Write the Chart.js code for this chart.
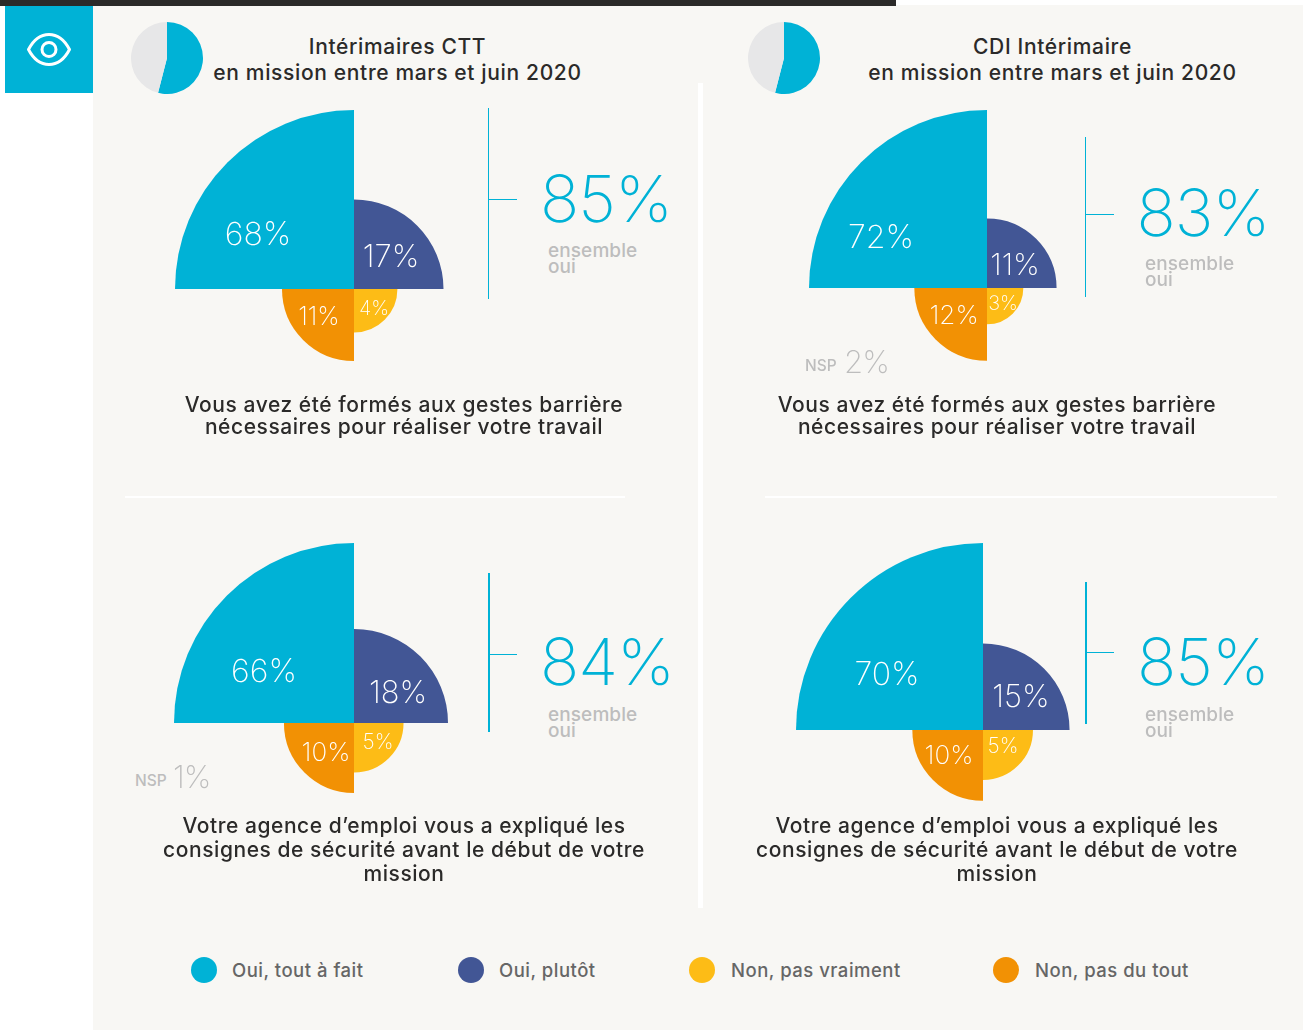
<!DOCTYPE html>
<html lang="fr">
<head>
<meta charset="utf-8">
<title>Gestes barrière</title>
<script src="https://cdn.jsdelivr.net/npm/chart.js@4/dist/chart.umd.min.js"></script>
<style>
  html, body { margin: 0; padding: 0; background: #fff; }
  body { position: relative; width: 1303px; height: 1030px; overflow: hidden; font-family: Inter, "Noto Sans", sans-serif; }
  .box, canvas, .txt { position: absolute; }
  canvas { display: block; }
  .txt { white-space: pre; line-height: 1; }
  .c { transform: translate(-50%, -50%); text-align: center; }
  .l { transform: translateY(-50%); }
  .title { font-size: 21px; font-weight: 450; color: #2b2a29; letter-spacing: 0.65px; }
  .question { font-size: 21px; font-weight: 450; color: #2b2a29; letter-spacing: 0.55px; }
  .big { font-size: 65px; font-weight: 200; color: #00b2d6; letter-spacing: -1px; }
  .sub { font-size: 19px; font-weight: 450; color: #bdbdbd; letter-spacing: 0.1px; }
  .nsp { font-size: 15.5px; font-weight: 500; color: #bdbdbd; }
  .nspv { font-size: 31px; font-weight: 200; color: #bdbdbd; letter-spacing: -1px; }
  .leg { font-size: 18.5px; font-weight: 450; color: #666; letter-spacing: 0.5px; }
</style>
</head>
<body>
<script>
const categories = ["Oui, tout à fait", "Oui, plutôt", "Non, pas vraiment", "Non, pas du tout"];
const colors = ["#00b2d6", "#425695", "#fdbc16", "#f29104"];

const cttFormes = [68, 17, 4, 11];
const cdiFormes = [72, 11, 3, 12];
const cttConsignes = [66, 18, 5, 10];
const cdiConsignes = [70, 15, 5, 10];

const ensembleOui = [85, 83, 84, 85];
const nspValues = [null, 2, 1, null];

const pieCtt = [54, 46];
const pieCdi = [54, 46];

const titles = ["Intérimaires CTT\nen mission entre mars et juin 2020", "CDI Intérimaire\nen mission entre mars et juin 2020"];
const questionA = "Vous avez été formés aux gestes barrière\nnécessaires pour réaliser votre travail";
const questionB = "Votre agence d’emploi vous a expliqué les\nconsignes de sécurité avant le début de votre\nmission";

// radius grows with the square root of the value, so the wedge area is the value
class SqrtRadialScale extends Chart.RadialLinearScale {
  static id = "sqrtRadial";
  static defaults = {};
  getDistanceFromCenterForValue(value) {
    return this.drawingArea * Math.sqrt(value / this.max);
  }
}

const wedgeLabels = {
  id: "wedgeLabels",
  afterDatasetsDraw(chart, args, opts) {
    const ctx = chart.ctx;
    const scale = chart.scales.r;
    ctx.save();
    ctx.fillStyle = "#fff";
    ctx.textAlign = "center";
    ctx.textBaseline = "middle";
    chart.data.datasets[0].data.forEach((v, i) => {
      ctx.font = "200 " + opts.sizes[i] + "px Inter, sans-serif";
      ctx.fillText(v + "%", scale.xCenter + opts.offsets[i][0], scale.yCenter + opts.offsets[i][1] + 1.5);
    });
    ctx.restore();
  },
};

Chart.register(SqrtRadialScale);

function addBox(x, y, w, h, color) {
  const div = document.createElement("div");
  div.className = "box";
  div.style.cssText = `left:${x}px;top:${y}px;width:${w}px;height:${h}px;background:${color}`;
  document.body.appendChild(div);
}

function addText(text, x, y, cls, extra) {
  const div = document.createElement("div");
  div.className = "txt " + cls;
  div.textContent = text;
  div.style.left = x + "px";
  div.style.top = y + "px";
  if (extra) div.style.cssText += extra;
  document.body.appendChild(div);
}

function addCanvas(x, y, w, h) {
  const canvas = document.createElement("canvas");
  canvas.width = w;
  canvas.height = h;
  canvas.style.left = x + "px";
  canvas.style.top = y + "px";
  canvas.style.width = w + "px";
  canvas.style.height = h + "px";
  document.body.appendChild(canvas);
  return canvas;
}

function polar(values, cx, cy, radius, offsets, sizes) {
  const canvas = addCanvas(cx - radius, cy - radius, radius * 2, radius * 2);
  new Chart(canvas.getContext("2d"), {
    type: "polarArea",
    data: {
      labels: categories,
      datasets: [{ data: values, backgroundColor: colors, borderWidth: 0 }],
    },
    options: {
      responsive: false,
      animation: false,
      layout: { padding: 0 },
      scales: {
        r: { type: "sqrtRadial", display: false, min: 0, max: Math.max(...values), startAngle: -90 },
      },
      plugins: {
        legend: { display: false },
        tooltip: { enabled: false },
        wedgeLabels: { offsets: offsets, sizes: sizes },
      },
    },
    plugins: [wedgeLabels],
  });
}

function pie(values, cx, cy) {
  const canvas = addCanvas(cx - 36, cy - 36, 72, 72);
  new Chart(canvas.getContext("2d"), {
    type: "pie",
    data: {
      labels: ["En mission", "Autres"],
      datasets: [{ data: values, backgroundColor: ["#00b2d6", "#e7e7e8"], borderWidth: 0 }],
    },
    options: {
      responsive: false,
      animation: false,
      plugins: { legend: { display: false }, tooltip: { enabled: false } },
    },
  });
}

function bracket(x, top, bottom, tickY) {
  addBox(x, top, 1.5, bottom - top, "#00b2d6");
  addBox(x, tickY, 29, 1.5, "#00b2d6");
}

// page background
addBox(93, 5, 1210, 1025, "#f8f7f4");
addBox(0, 0, 896, 6, "#2b2a29");
addBox(5, 6, 88, 87, "#00b2d6");
addBox(698, 83, 5, 825, "#fff");
addBox(125, 495.5, 500, 2.5, "#fff");
addBox(765, 495.5, 512, 2.5, "#fff");

// eye icon
const eye = document.createElementNS("http://www.w3.org/2000/svg", "svg");
eye.setAttribute("width", "48");
eye.setAttribute("height", "36");
eye.setAttribute("viewBox", "0 0 48 36");
eye.style.cssText = "position:absolute;left:25px;top:31px";
eye.innerHTML = '<path d="M3.5 18.5 C9 8 16.5 3.5 24 3.5 C31.5 3.5 39 8 44.5 18.5 C39 29 31.5 33.5 24 33.5 C16.5 33.5 9 29 3.5 18.5 Z" fill="none" stroke="#fff" stroke-width="3" stroke-linejoin="round"/><circle cx="24" cy="18.5" r="7" fill="none" stroke="#fff" stroke-width="3"/>';
document.body.appendChild(eye);

// headers
pie(pieCtt, 167, 58);
pie(pieCdi, 784, 58);
addText(titles[0], 397.5, 59.5, "title c", "line-height:26px");
addText(titles[1], 1052.5, 59.5, "title c", "line-height:26px");

// the four polar charts
polar(cttFormes, 354, 289, 179, [[-96, -55], [37, -33], [20, 18], [-35, 27]], [32, 31, 20, 25]);
polar(cdiFormes, 987, 288, 178, [[-106, -51], [28, -24], [16, 14], [-33, 27]], [32, 30, 20, 26]);
polar(cttConsignes, 354, 723, 180, [[-90, -52], [44, -31], [24, 18], [-28, 29]], [32, 31, 21, 26]);
polar(cdiConsignes, 983, 730, 187, [[-96, -56], [38, -34], [20, 15], [-34, 25]], [32, 31, 21, 26]);

// brackets, totals
bracket(487.5, 108, 299, 198.5);
bracket(1084.5, 137, 297, 213.5);
bracket(488, 573, 732, 653.5);
bracket(1085, 582, 724, 651.5);

const totalPos = [[606, 198, 548, 251], [1203, 212, 1145, 264], [607, 661, 548, 715], [1203, 661, 1145, 715]];
ensembleOui.forEach((v, i) => {
  const p = totalPos[i];
  addText(v + "%", p[0], p[1], "big c");
  addText("ensemble\noui", p[2], p[3] + 8, "sub l", "line-height:16px");
});

// NSP
const nspPos = [null, [805, 366, 844, 361], [135, 781, 173, 776], null];
nspValues.forEach((v, i) => {
  if (v === null) return;
  const p = nspPos[i];
  addText("NSP", p[0], p[1], "nsp l");
  addText(v + "%", p[2], p[3], "nspv l");
});

// questions
addText(questionA, 404, 416, "question c", "line-height:22px");
addText(questionA, 997, 416, "question c", "line-height:22px");
addText(questionB, 404, 850, "question c", "line-height:24px");
addText(questionB, 997, 850, "question c", "line-height:24px");

// legend
const legendDotX = [204, 471, 702, 1006];
const legendTextX = [232, 499, 731, 1035];
categories.forEach((name, i) => {
  const dot = document.createElement("div");
  dot.className = "box";
  dot.style.cssText = `left:${legendDotX[i] - 13}px;top:957px;width:26px;height:26px;border-radius:50%;background:${colors[i]}`;
  document.body.appendChild(dot);
  addText(name, legendTextX[i], 970, "leg l");
});
</script>
</body>
</html>
